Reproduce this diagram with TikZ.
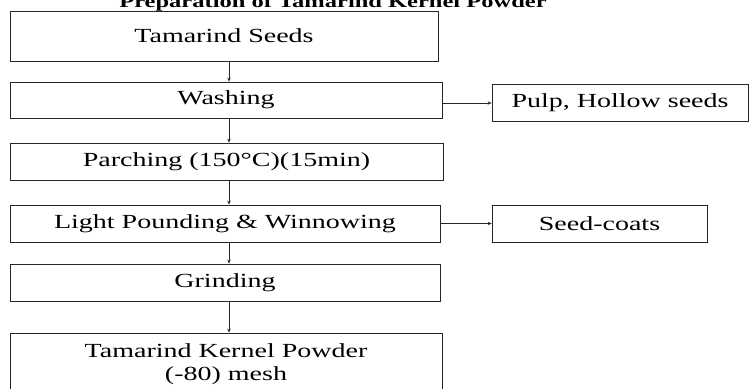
\documentclass[tikz,border=0pt]{standalone}
\usepackage{fontspec}
\setmainfont{Liberation Serif}[FakeStretch=1.4]
\usetikzlibrary{arrows.meta}
\begin{document}
\begin{tikzpicture}[x=1pt,y=-1pt,
  flowbox/.style={draw=black!85, line width=0.8pt, inner sep=0pt, align=center,
    font=\fontsize{20}{23}\selectfont},
  arr/.style={draw=black!85, line width=0.8pt, -{Stealth[length=4pt,width=3.5pt]}}]
\useasboundingbox (0,0) rectangle (749,388);
\clip (0,0) rectangle (749,388);
\node[font=\bfseries\fontsize{17.5}{20}\selectfont, anchor=base] (title) at (333,7) {Preparation of Tamarind Kernel Powder};
\node[flowbox, minimum width=428pt, minimum height=50pt] (b1) at (224,36) {Tamarind Seeds};
\node[flowbox, minimum width=432pt, minimum height=36pt] (b2) at (226,100) {Washing};
\node[flowbox, minimum width=256pt, minimum height=37pt] (pulp) at (620,103) {Pulp, Hollow seeds};
\node[flowbox, minimum width=433pt, minimum height=37pt] (b3) at (226.5,161.5) {Parching (150°C)(15min)};
\node[flowbox, minimum width=430pt, minimum height=37pt] (b4) at (225,223.5) {Light Pounding \& Winnowing};
\node[flowbox, minimum width=215pt, minimum height=37pt] (seed) at (599.5,223.5) {Seed-coats};
\node[flowbox, minimum width=430pt, minimum height=37pt] (b5) at (225,282.5) {Grinding};
\node[flowbox, minimum width=432pt, minimum height=62pt] (b6) at (226,364) {Tamarind Kernel Powder\\(-80) mesh};
\coordinate (ax) at (229,0);
\draw[arr] (b1.south -| ax) -- (b2.north -| ax);
\draw[arr] (b2.south -| ax) -- (b3.north -| ax);
\draw[arr] (b3.south -| ax) -- (b4.north -| ax);
\draw[arr] (b4.south -| ax) -- (b5.north -| ax);
\draw[arr] (b5.south -| ax) -- (b6.north -| ax);
\draw[arr] (pulp.west -| b2.east) -- (pulp.west);
\draw[arr] (seed.west -| b4.east) -- (seed.west);
\end{tikzpicture}
\end{document}
